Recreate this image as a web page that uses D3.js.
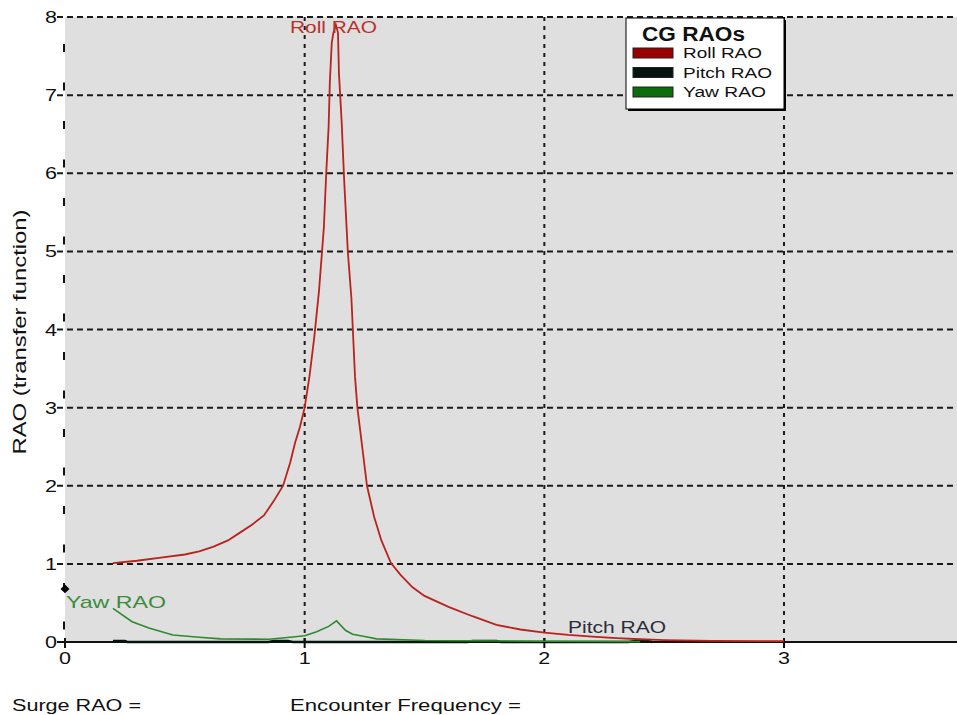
<!DOCTYPE html>
<html>
<head>
<meta charset="utf-8">
<script src="https://cdn.jsdelivr.net/npm/d3@7"></script>
<style>
  body { margin: 0; background: #fff; }
  text { font-family: "Liberation Sans", Arial, sans-serif; }
</style>
</head>
<body>
<div id="chart"></div>
<script>
// frequency (x) and RAO values
var rollX = [0.2, 0.3, 0.4, 0.5, 0.56, 0.62, 0.68, 0.73, 0.78, 0.83, 0.87, 0.91, 0.94, 0.96, 0.98, 1.0,
             1.02, 1.04, 1.06, 1.08, 1.09, 1.1, 1.105, 1.113, 1.12, 1.13, 1.139, 1.143, 1.154, 1.165,
             1.18, 1.195, 1.21, 1.22, 1.24, 1.26, 1.29, 1.32, 1.36, 1.4, 1.45, 1.5, 1.6, 1.7, 1.8,
             1.9, 2.0, 2.1, 2.2, 2.3, 2.4, 2.5, 2.7, 3.0];
var rollY = [1.01, 1.04, 1.08, 1.12, 1.16, 1.22, 1.3, 1.4, 1.5, 1.62, 1.8, 2.0, 2.3, 2.55, 2.75, 3.0,
             3.4, 3.9, 4.5, 5.3, 6.0, 6.6, 7.16, 7.67, 7.8, 7.9, 7.8, 7.28, 6.68, 5.9,
             5.0, 4.4, 3.4, 3.0, 2.5, 2.0, 1.6, 1.3, 1.01, 0.86, 0.7, 0.59, 0.45, 0.33, 0.22,
             0.16, 0.12, 0.09, 0.07, 0.05, 0.035, 0.025, 0.015, 0.01];

var yawX = [0.2, 0.28, 0.35, 0.45, 0.56, 0.65, 0.85, 0.94, 1.0, 1.05, 1.1, 1.133, 1.17, 1.2, 1.25, 1.3, 1.5, 2.0, 2.4];
var yawY = [0.43, 0.26, 0.18, 0.09, 0.06, 0.04, 0.035, 0.06, 0.08, 0.13, 0.2, 0.27, 0.15, 0.1, 0.07, 0.04, 0.02, 0.01, 0.005];

var pitchX = [0.2, 0.25, 0.26, 0.85, 0.87, 0.93, 0.95, 1.68, 1.7, 1.8, 1.82, 2.35, 2.38, 2.43, 2.45];
var pitchY = [0.012, 0.012, 0, 0, 0.012, 0.012, 0, 0, 0.012, 0.012, 0, 0, 0.012, 0.012, 0];

var xTicks = [0, 1, 2, 3];
var yTicks = [0, 1, 2, 3, 4, 5, 6, 7, 8];
var legendNames = ["Roll RAO", "Pitch RAO", "Yaw RAO"];
var legendColors = ["#9b0000", "#06140f", "#0b6e0b"];

var width = 957, height = 715;
var plotLeft = 65, plotTop = 17, plotBottom = 642;

var svg = d3.select("#chart").append("svg")
    .attr("width", width)
    .attr("height", height);

var x = d3.scaleLinear().domain([0, 3]).range([plotLeft, 784]);
var y = d3.scaleLinear().domain([0, 8]).range([plotBottom, plotTop]);

// the original renders its text wide, so stretch to the measured widths
function stretch(sel, w) {
    sel.attr("textLength", w).attr("lengthAdjust", "spacingAndGlyphs");
}

// plot background
svg.append("rect")
    .attr("x", plotLeft)
    .attr("y", plotTop)
    .attr("width", width - plotLeft)
    .attr("height", plotBottom - plotTop)
    .attr("fill", "#dfdfdf");

// horizontal grid lines (with their little ticks)
svg.selectAll(".hgrid")
    .data(yTicks.filter(function(d) { return d > 0; }))
    .enter()
    .append("line")
    .attr("class", "hgrid")
    .attr("x1", plotLeft - 8)
    .attr("x2", width)
    .attr("y1", function(d) { return y(d); })
    .attr("y2", function(d) { return y(d); })
    .attr("stroke", "#1a1a1a")
    .attr("stroke-width", 2)
    .attr("stroke-dasharray", "6,4");

// vertical grid lines
svg.selectAll(".vgrid")
    .data(xTicks.filter(function(d) { return d > 0; }))
    .enter()
    .append("line")
    .attr("class", "vgrid")
    .attr("x1", function(d) { return x(d); })
    .attr("x2", function(d) { return x(d); })
    .attr("y1", plotTop)
    .attr("y2", plotBottom)
    .attr("stroke", "#1a1a1a")
    .attr("stroke-width", 2)
    .attr("stroke-dasharray", "4,5");

// left axis line, long sparse dashes
svg.append("line")
    .attr("x1", x(0) - 1)
    .attr("x2", x(0) - 1)
    .attr("y1", plotTop)
    .attr("y2", plotBottom)
    .attr("stroke", "#111")
    .attr("stroke-width", 2)
    .attr("stroke-dasharray", "8,30.5")
    .attr("stroke-dashoffset", -27);

// y tick labels
svg.selectAll(".ylab")
    .data(yTicks)
    .enter()
    .append("text")
    .attr("class", "ylab")
    .attr("x", 57)
    .attr("y", function(d) { return y(d) + 6; })
    .attr("text-anchor", "end")
    .attr("font-size", 17)
    .attr("fill", "#111")
    .text(function(d) { return d; })
    .call(stretch, 12);

// x axis
svg.append("line")
    .attr("x1", plotLeft - 8)
    .attr("x2", width)
    .attr("y1", plotBottom)
    .attr("y2", plotBottom)
    .attr("stroke", "#111")
    .attr("stroke-width", 2);

svg.selectAll(".xtick")
    .data(xTicks)
    .enter()
    .append("line")
    .attr("class", "xtick")
    .attr("x1", function(d) { return x(d); })
    .attr("x2", function(d) { return x(d); })
    .attr("y1", plotBottom - 4)
    .attr("y2", plotBottom + 6)
    .attr("stroke", "#111")
    .attr("stroke-width", 2);

svg.selectAll(".xlab")
    .data(xTicks)
    .enter()
    .append("text")
    .attr("class", "xlab")
    .attr("x", function(d) { return x(d); })
    .attr("y", 664)
    .attr("text-anchor", "middle")
    .attr("font-size", 17)
    .attr("fill", "#111")
    .text(function(d) { return d; })
    .call(stretch, 12);

// y axis title
svg.append("text")
    .attr("transform", "translate(26,332) rotate(-90)")
    .attr("text-anchor", "middle")
    .attr("font-size", 18)
    .attr("fill", "#111")
    .text("RAO (transfer function)")
    .call(stretch, 245);

var line = d3.line()
    .x(function(d) { return x(d[0]); })
    .y(function(d) { return y(d[1]); });

function pairs(xs, ys) {
    return xs.map(function(v, i) { return [v, ys[i]]; });
}

svg.append("path")
    .datum(pairs(pitchX, pitchY))
    .attr("d", line)
    .attr("fill", "none")
    .attr("stroke", "#06140f")
    .attr("stroke-width", 2.5);

svg.append("path")
    .datum(pairs(yawX, yawY))
    .attr("d", line)
    .attr("fill", "none")
    .attr("stroke", "#2f8a2f")
    .attr("stroke-width", 1.6);

svg.append("path")
    .datum(pairs(rollX, rollY))
    .attr("d", line)
    .attr("fill", "none")
    .attr("stroke", "#b8231d")
    .attr("stroke-width", 1.8);

// black marker on the axis (a square turned on its corner)
svg.append("path")
    .attr("d", d3.symbol().type(d3.symbolSquare).size(40))
    .attr("transform", "translate(" + x(0) + "," + y(0.68) + ") rotate(45)")
    .attr("fill", "#000");

// series labels
svg.append("text")
    .attr("x", 290).attr("y", 33)
    .attr("font-size", 17)
    .attr("fill", "#b8312c")
    .text("Roll RAO")
    .call(stretch, 87);

svg.append("text")
    .attr("x", 66).attr("y", 608)
    .attr("font-size", 17)
    .attr("fill", "#3c8c3c")
    .text("Yaw RAO")
    .call(stretch, 100);

svg.append("text")
    .attr("x", 568).attr("y", 633)
    .attr("font-size", 17)
    .attr("fill", "#2c2c3a")
    .text("Pitch RAO")
    .call(stretch, 98);

// legend
var legend = svg.append("g")
    .attr("transform", "translate(626,18)");

legend.append("rect")
    .attr("x", 2).attr("y", 2)
    .attr("width", 158).attr("height", 91)
    .attr("fill", "#000");

legend.append("rect")
    .attr("width", 158).attr("height", 91)
    .attr("fill", "#fff")
    .attr("stroke", "#000")
    .attr("stroke-width", 1);

legend.append("text")
    .attr("x", 16).attr("y", 23)
    .attr("font-size", 20)
    .attr("font-weight", "bold")
    .attr("fill", "#111")
    .text("CG RAOs")
    .call(stretch, 103);

legend.selectAll(".sw")
    .data(legendNames)
    .enter()
    .append("rect")
    .attr("class", "sw")
    .attr("x", 7)
    .attr("y", function(d, i) { return 30 + i * 19.5; })
    .attr("width", 40)
    .attr("height", 10)
    .attr("fill", function(d, i) { return legendColors[i]; })
    .attr("stroke", "#222")
    .attr("stroke-width", 1);

var legendWidths = [79, 89, 83];
legend.selectAll(".lt")
    .data(legendNames)
    .enter()
    .append("text")
    .attr("class", "lt")
    .attr("x", 57)
    .attr("y", function(d, i) { return 40 + i * 19.5; })
    .attr("font-size", 14)
    .attr("fill", "#111")
    .text(function(d) { return d; })
    .each(function(d, i) { d3.select(this).call(stretch, legendWidths[i]); });

// bottom read-outs
svg.append("text")
    .attr("x", 12).attr("y", 711)
    .attr("font-size", 16)
    .attr("fill", "#111")
    .text("Surge RAO =")
    .call(stretch, 129);

svg.append("text")
    .attr("x", 290).attr("y", 711)
    .attr("font-size", 16)
    .attr("fill", "#111")
    .text("Encounter Frequency =")
    .call(stretch, 231);
</script>
</body>
</html>
